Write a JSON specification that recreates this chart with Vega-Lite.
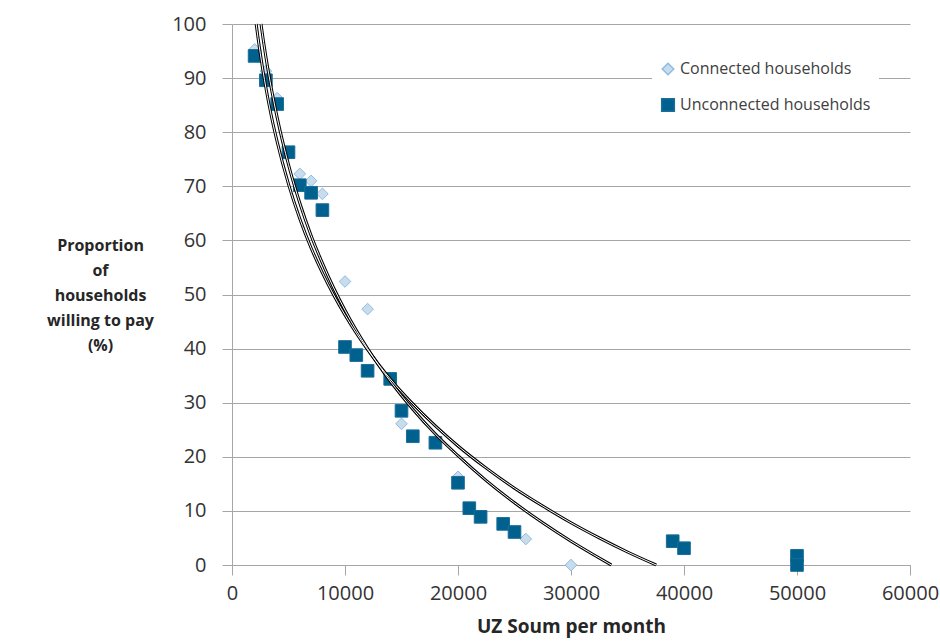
{
  "$schema": "https://vega.github.io/schema/vega-lite/v6.json",
  "width": 678,
  "height": 541,
  "autosize": {"type": "none"},
  "padding": {"left": 232, "top": 24, "right": 30, "bottom": 76},
  "background": "white",
  "config": {
    "view": {"stroke": null},
    "font": "Open Sans"
  },
  "datasets": {
    "pts": [
      {"group": "Connected households", "x": 2000, "y": 95.3},
      {"group": "Connected households", "x": 3000, "y": 91.3},
      {"group": "Connected households", "x": 4000, "y": 86.3},
      {"group": "Connected households", "x": 5000, "y": 76.0},
      {"group": "Connected households", "x": 6000, "y": 72.3},
      {"group": "Connected households", "x": 7000, "y": 71.0},
      {"group": "Connected households", "x": 8000, "y": 68.6},
      {"group": "Connected households", "x": 10000, "y": 52.4},
      {"group": "Connected households", "x": 12000, "y": 47.3},
      {"group": "Connected households", "x": 15000, "y": 26.1},
      {"group": "Connected households", "x": 20000, "y": 16.3},
      {"group": "Connected households", "x": 26000, "y": 4.8},
      {"group": "Connected households", "x": 30000, "y": 0},
      {"group": "Unconnected households", "x": 2000, "y": 94.1},
      {"group": "Unconnected households", "x": 3000, "y": 89.6},
      {"group": "Unconnected households", "x": 4000, "y": 85.2},
      {"group": "Unconnected households", "x": 5000, "y": 76.3},
      {"group": "Unconnected households", "x": 6000, "y": 70.2},
      {"group": "Unconnected households", "x": 7000, "y": 68.8},
      {"group": "Unconnected households", "x": 8000, "y": 65.6},
      {"group": "Unconnected households", "x": 10000, "y": 40.3},
      {"group": "Unconnected households", "x": 11000, "y": 38.8},
      {"group": "Unconnected households", "x": 12000, "y": 35.9},
      {"group": "Unconnected households", "x": 14000, "y": 34.4},
      {"group": "Unconnected households", "x": 15000, "y": 28.5},
      {"group": "Unconnected households", "x": 16000, "y": 23.8},
      {"group": "Unconnected households", "x": 18000, "y": 22.6},
      {"group": "Unconnected households", "x": 20000, "y": 15.2},
      {"group": "Unconnected households", "x": 21000, "y": 10.5},
      {"group": "Unconnected households", "x": 22000, "y": 8.9},
      {"group": "Unconnected households", "x": 24000, "y": 7.6},
      {"group": "Unconnected households", "x": 25000, "y": 6.1},
      {"group": "Unconnected households", "x": 39000, "y": 4.4},
      {"group": "Unconnected households", "x": 40000, "y": 3.1},
      {"group": "Unconnected households", "x": 50000, "y": 1.7},
      {"group": "Unconnected households", "x": 50000, "y": 0}
    ],
    "curves": [
      {"curve": "P", "x": 2140, "y": 100},
      {"curve": "P", "x": 2300, "y": 97.5},
      {"curve": "P", "x": 2500, "y": 94.6},
      {"curve": "P", "x": 3000, "y": 88.2},
      {"curve": "P", "x": 3500, "y": 82.8},
      {"curve": "P", "x": 4000, "y": 78.2},
      {"curve": "P", "x": 5000, "y": 70.4},
      {"curve": "P", "x": 6000, "y": 64.0},
      {"curve": "P", "x": 7000, "y": 58.6},
      {"curve": "P", "x": 8000, "y": 54.0},
      {"curve": "P", "x": 9000, "y": 49.9},
      {"curve": "P", "x": 10000, "y": 46.2},
      {"curve": "P", "x": 12000, "y": 39.8},
      {"curve": "P", "x": 14000, "y": 34.4},
      {"curve": "P", "x": 16000, "y": 29.8},
      {"curve": "P", "x": 18000, "y": 25.7},
      {"curve": "P", "x": 20000, "y": 22.0},
      {"curve": "P", "x": 22500, "y": 17.9},
      {"curve": "P", "x": 25000, "y": 14.2},
      {"curve": "P", "x": 27500, "y": 10.9},
      {"curve": "P", "x": 30000, "y": 7.8},
      {"curve": "P", "x": 32500, "y": 5.0},
      {"curve": "P", "x": 35000, "y": 2.4},
      {"curve": "P", "x": 37540, "y": 0},
      {"curve": "Q", "x": 2565, "y": 100},
      {"curve": "Q", "x": 2800, "y": 96.6},
      {"curve": "Q", "x": 3000, "y": 93.9},
      {"curve": "Q", "x": 3500, "y": 87.9},
      {"curve": "Q", "x": 4000, "y": 82.7},
      {"curve": "Q", "x": 5000, "y": 74.0},
      {"curve": "Q", "x": 6000, "y": 66.9},
      {"curve": "Q", "x": 7000, "y": 60.9},
      {"curve": "Q", "x": 8000, "y": 55.8},
      {"curve": "Q", "x": 9000, "y": 51.2},
      {"curve": "Q", "x": 10000, "y": 47.1},
      {"curve": "Q", "x": 12000, "y": 40.0},
      {"curve": "Q", "x": 14000, "y": 34.0},
      {"curve": "Q", "x": 16000, "y": 28.8},
      {"curve": "Q", "x": 18000, "y": 24.2},
      {"curve": "Q", "x": 20000, "y": 20.2},
      {"curve": "Q", "x": 22500, "y": 15.6},
      {"curve": "Q", "x": 25000, "y": 11.5},
      {"curve": "Q", "x": 27500, "y": 7.8},
      {"curve": "Q", "x": 30000, "y": 4.4},
      {"curve": "Q", "x": 32000, "y": 1.9},
      {"curve": "Q", "x": 33570, "y": 0}
    ]
  },
  "encoding": {
    "x": {
      "field": "x", "type": "quantitative",
      "scale": {"domain": [0, 60000], "nice": false, "zero": true},
      "axis": {
        "title": "UZ Soum per month",
        "values": [0, 10000, 20000, 30000, 40000, 50000, 60000],
        "format": "d",
        "grid": false,
        "domainColor": "#A6A6A6", "domainWidth": 1,
        "tickColor": "#A6A6A6", "tickSize": 10, "tickWidth": 1,
        "labelFont": "Open Sans", "labelFontSize": 20, "labelColor": "#333333",
        "labelPadding": 8, "labelFlush": false, "labelOverlap": false,
        "titleFont": "Open Sans", "titleFontSize": 19, "titleFontWeight": "bold",
        "titleColor": "#262626", "titlePadding": 14
      }
    },
    "y": {
      "field": "y", "type": "quantitative",
      "scale": {"domain": [0, 100], "nice": false},
      "axis": {
        "title": ["Proportion", "of", "households", "willing to pay", "(%)"],
        "values": [0, 10, 20, 30, 40, 50, 60, 70, 80, 90, 100],
        "grid": true, "gridColor": "#A6A6A6", "gridWidth": 1,
        "domainColor": "#A6A6A6", "domainWidth": 1,
        "tickColor": "#A6A6A6", "tickSize": 10, "tickWidth": 1,
        "labelFont": "Open Sans", "labelFontSize": 20, "labelColor": "#333333",
        "labelPadding": 16,
        "titleFont": "Open Sans", "titleFontSize": 16, "titleFontWeight": "bold",
        "titleColor": "#262626", "titleAngle": 0, "titleAlign": "center",
        "titleBaseline": "top", "titleX": -132, "titleY": 213, "titleLineHeight": 25
      }
    }
  },
  "layer": [
    {
      "data": {"name": "pts"},
      "mark": {"type": "point", "filled": true, "opacity": 1, "strokeWidth": 1},
      "encoding": {
        "shape": {
          "field": "group", "type": "nominal",
          "scale": {"domain": ["Connected households", "Unconnected households"], "range": ["diamond", "square"]},
          "legend": {
            "title": null, "orient": "none", "legendX": 420, "legendY": 29,
            "fillColor": "white", "padding": 8,
            "labelFont": "Open Sans", "labelFontSize": 16, "labelColor": "#404040",
            "labelOffset": 4, "rowPadding": 17, "labelLimit": 0
          }
        },
        "fill": {
          "field": "group", "type": "nominal",
          "scale": {"domain": ["Connected households", "Unconnected households"], "range": ["#C9DCEC", "#00608E"]}
        },
        "stroke": {
          "field": "group", "type": "nominal",
          "scale": {"domain": ["Connected households", "Unconnected households"], "range": ["#8CBDE2", "#1A6E98"]}
        },
        "size": {
          "field": "group", "type": "nominal",
          "scale": {"domain": ["Connected households", "Unconnected households"], "range": [135, 160]}
        }
      }
    },
    {
      "data": {"name": "curves"},
      "mark": {"type": "line", "color": "#000000", "strokeWidth": 3, "interpolate": "monotone"},
      "encoding": {"detail": {"field": "curve", "type": "nominal"}}
    },
    {
      "data": {"name": "curves"},
      "mark": {"type": "line", "color": "#FFFFFF", "strokeWidth": 1, "interpolate": "monotone"},
      "encoding": {"detail": {"field": "curve", "type": "nominal"}}
    }
  ]
}
